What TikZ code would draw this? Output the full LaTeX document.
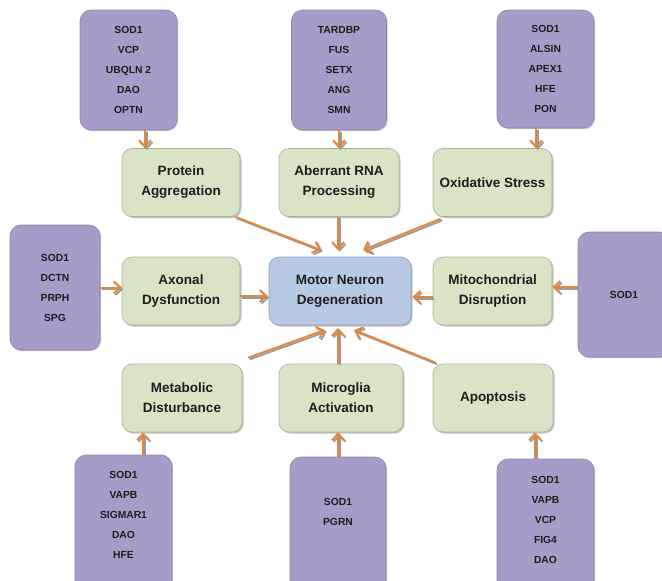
\documentclass[tikz,border=0pt]{standalone}
\usepackage{fontspec}
\setmainfont{Liberation Sans}
\usetikzlibrary{arrows.meta,shadows}
\definecolor{gene}{HTML}{A99BC9}
\definecolor{geneedge}{HTML}{8E84A8}
\definecolor{proc}{HTML}{D9E3C5}
\definecolor{procedge}{HTML}{A9B39A}
\definecolor{core}{HTML}{B8C9E3}
\definecolor{coreedge}{HTML}{909DB3}
\definecolor{arrorange}{HTML}{E4873A}
\definecolor{arrgray}{HTML}{9A9A9A}
\definecolor{txt}{HTML}{1E1E1E}
\tikzset{
  genebox/.style={draw=geneedge, line width=0.6pt, fill=gene, rounded corners=11pt,
    inner sep=0pt, align=center, text=txt,
    font=\fontsize{10.3}{20}\selectfont\bfseries,
    drop shadow={shadow xshift=1.2pt, shadow yshift=-1.2pt, fill=gray, opacity=0.45}},
  procbox/.style={draw=procedge, line width=0.6pt, fill=proc, rounded corners=10pt,
    inner sep=0pt, align=center, text=txt, minimum height=68pt,
    font=\fontsize{13.5}{20}\selectfont\bfseries,
    drop shadow={shadow xshift=1.5pt, shadow yshift=-1.5pt, fill=gray, opacity=0.5}},
  corebox/.style={procbox, draw=coreedge, fill=core},
  arr/.style={draw=arrorange, line width=2pt,
    -{Straight Barb[length=6.5pt,width=12pt,line width=2pt]}},
  arrshade/.style={draw=arrgray, line width=1.8pt,
    -{Straight Barb[length=6.5pt,width=12pt,line width=1.8pt]},
    transform canvas={shift={(1.6pt,-1.6pt)}}}
}
\newcommand\shadedarrow[2]{%
  \draw[arrshade] #1 -- #2;
  \draw[arr] #1 -- #2;}
\begin{document}
\begin{tikzpicture}[x=1pt,y=-1pt]
\useasboundingbox (0,0) rectangle (662,581);
\clip (0,0) rectangle (662,581);
% gene boxes
\node[genebox, minimum width=97pt, minimum height=120pt] (tl) at (128.5,70)
  {SOD1\\VCP\\UBQLN 2\\DAO\\OPTN};
\node[genebox, minimum width=95pt, minimum height=120pt] (tm) at (339,70)
  {TARDBP\\FUS\\SETX\\ANG\\SMN};
\node[genebox, minimum width=97pt, minimum height=118pt] (tr) at (545.5,69)
  {SOD1\\ALSIN\\APEX1\\HFE\\PON};
\node[genebox, minimum width=90pt, minimum height=125pt] (ml) at (55,287.5)
  {SOD1\\DCTN\\PRPH\\SPG};
\node[genebox, minimum width=92pt, minimum height=125pt] (mr) at (624,294.5)
  {SOD1};
\node[genebox, minimum width=97pt, minimum height=150pt] (bl) at (123.5,530)
  {SOD1\\VAPB\\SIGMAR1\\DAO\\HFE\\[10pt]};
\node[genebox, minimum width=96pt, minimum height=150pt] (bm) at (338,532)
  {SOD1\\PGRN\\[20pt]};
\node[genebox, minimum width=97pt, minimum height=150pt] (br) at (545.5,534)
  {SOD1\\VAPB\\VCP\\FIG4\\DAO\\[8pt]};
% process boxes
\node[procbox, minimum width=118pt] (pa) at (181,182.5) {Protein\\Aggregation};
\node[procbox, minimum width=120pt] (rna) at (339,182.5) {Aberrant RNA\\Processing};
\node[procbox, minimum width=119pt] (ox) at (492.5,182.5) {Oxidative Stress};
\node[procbox, minimum width=118pt] (ax) at (181,291) {Axonal\\Dysfunction};
\node[corebox, minimum width=142pt] (mn) at (340,291) {Motor Neuron\\Degeneration};
\node[procbox, minimum width=119pt] (mi) at (492.5,291) {Mitochondrial\\Disruption};
\node[procbox, minimum width=120pt] (me) at (182,398) {Metabolic\\Disturbance};
\node[procbox, minimum width=124pt] (mg) at (341,398) {Microglia\\Activation};
\node[procbox, minimum width=120pt] (ap) at (493,398) {Apoptosis};
% gene -> process arrows
\shadedarrow{([xshift=16.5pt]tl.south)}{([xshift=16.5pt]tl.south |- pa.north)}
\shadedarrow{(tm.south)}{(tm.south |- rna.north)}
\shadedarrow{([xshift=-9.5pt]tr.south)}{([xshift=-9.5pt]tr.south |- ox.north)}
\shadedarrow{(ml.east)}{(ml.east -| ax.west)}
\shadedarrow{([yshift=7.5pt]mr.west)}{([yshift=7.5pt]mr.west -| mi.east)}
\shadedarrow{([xshift=19.5pt]bl.north)}{([xshift=19.5pt]bl.north |- me.south)}
\shadedarrow{(bm.north)}{(bm.north |- mg.south)}
\shadedarrow{([xshift=-10.5pt]br.north)}{([xshift=-10.5pt]br.north |- ap.south)}
% process -> core arrows
\coordinate (c1) at (321,250);
\coordinate (c2) at (338,250);
\coordinate (c3) at (363,250);
\coordinate (c4) at (325,330);
\coordinate (c5) at (338,328);
\coordinate (c6) at (354,330);
\shadedarrow{([xshift=-5pt]pa.south east)}{(c1)}
\shadedarrow{(rna.south -| c2)}{(c2)}
\shadedarrow{([xshift=8pt,yshift=-2pt]ox.south west)}{(c3)}
\shadedarrow{([yshift=-5pt]ax.east)}{([yshift=-5pt,xshift=-1pt]mn.west)}
\shadedarrow{([yshift=-6pt]mi.west)}{([yshift=-6pt,xshift=1pt]mn.east)}
\shadedarrow{([xshift=6pt,yshift=6pt]me.north east)}{(c4)}
\shadedarrow{(mg.north -| c5)}{(c5)}
\shadedarrow{([xshift=3pt,yshift=1pt]ap.north west)}{(c6)}
\end{tikzpicture}
\end{document}
